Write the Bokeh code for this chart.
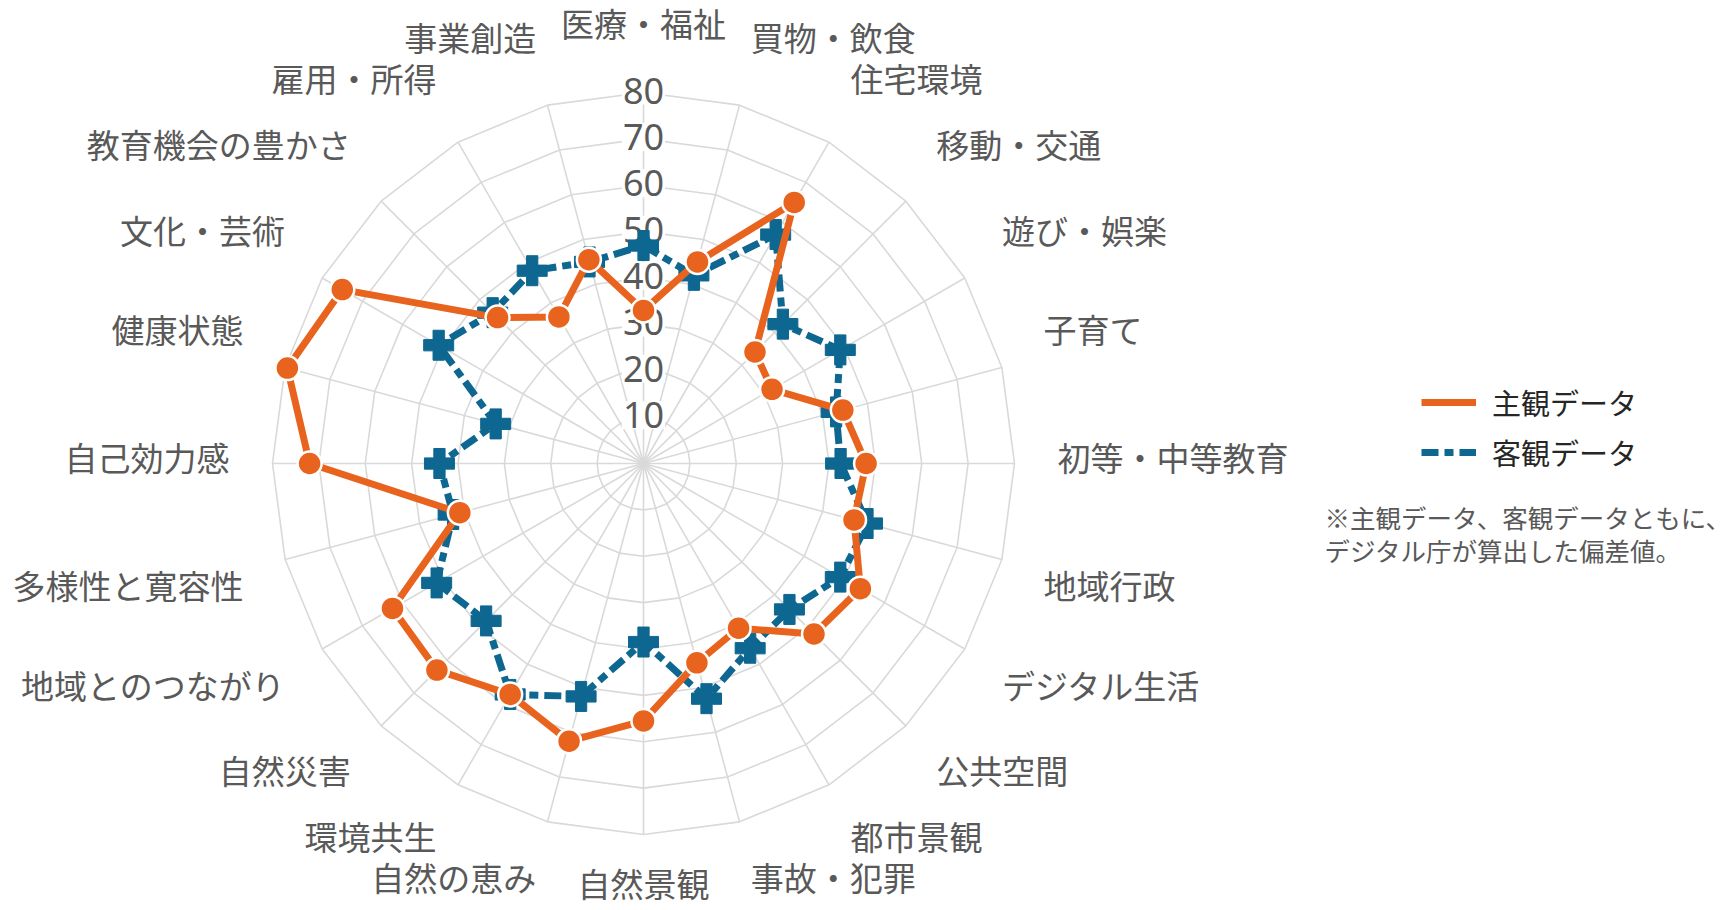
import numpy as np
from bokeh.plotting import figure
from bokeh.models import Range1d, Legend, LegendItem, ColumnDataSource
from bokeh.core.properties import value
from bokeh.embed import file_html
from bokeh.resources import INLINE

# ---------------- data ----------------
categories = ["医療・福祉", "買物・飲食", "住宅環境", "移動・交通", "遊び・娯楽", "子育て",
              "初等・中等教育", "地域行政", "デジタル生活", "公共空間", "都市景観", "事故・犯罪",
              "自然景観", "自然の恵み", "環境共生", "自然災害", "地域とのつながり", "多様性と寛容性",
              "自己効力感", "健康状態", "文化・芸術", "教育機会の豊かさ", "雇用・所得", "事業創造"]
subjective = [33, 45, 65, 34, 32, 44.5, 48, 47, 54, 52, 41, 44.5,
              55.5, 62, 57.5, 63, 62.5, 41, 72, 79.5, 75, 44.5, 36.5, 45.5]
objective = [47, 42, 57, 42.5, 49, 43, 42.5, 50, 49, 44.5, 46, 52.5,
             38.5, 52, 57.5, 48, 51.5, 42.5, 44, 33, 51, 46, 48, 45]
tick_values = [10, 20, 30, 40, 50, 60, 70, 80]
tick_labels = ["10", "20", "30", "40", "50", "60", "70", "80"]
series_names = ["主観データ", "客観データ"]
note_lines = ["※主観データ、客観データともに、", "デジタル庁が算出した偏差値。"]

# ---------------- styling / geometry ----------------
ORANGE = "#E8641E"
BLUE = "#0E6790"
GRID = "#d9d9d9"
TEXT = "#595959"
JP = "Noto Sans CJK JP"

W, H = 1734, 910
CX, CY = 643.0, -463.0          # centre (page px, y downward -> negative)
RMAX_PX = 371.0
VMAX = 80.0
K = RMAX_PX / VMAX

n = len(categories)
theta = np.arange(n) * 2 * np.pi / n


def polar(vals, ang):
    vals = np.asarray(vals, dtype=float)
    return CX + vals * K * np.sin(ang), CY + vals * K * np.cos(ang)


p = figure(width=W, height=H, output_backend="svg", toolbar_location=None,
           x_range=Range1d(0, W), y_range=Range1d(-H, 0),
           min_border=0, outline_line_color=None)
p.axis.visible = False
p.grid.visible = False
p.background_fill_color = "white"

# grid rings
ring_xs, ring_ys = [], []
ang_closed = np.append(theta, theta[0])
for v in tick_values:
    x, y = polar(np.full(n + 1, v), ang_closed)
    ring_xs.append(list(x))
    ring_ys.append(list(y))
p.multi_line(ring_xs, ring_ys, line_color=GRID, line_width=1.6)

# spokes
sp_xs, sp_ys = [], []
for a in theta:
    x, y = polar([0, VMAX], np.array([a, a]))
    sp_xs.append(list(x))
    sp_ys.append(list(y))
p.multi_line(sp_xs, sp_ys, line_color=GRID, line_width=1.6)

# radial tick labels
tx, ty = polar(tick_values, np.zeros(len(tick_values)))
p.text(x=tx, y=ty, text=tick_labels, text_align="center", text_baseline="middle",
       y_offset=-2, text_font=value("Noto Sans"), text_font_size="36px", text_color=TEXT,
       background_fill_color="white", padding=1)

# series
ox, oy = polar(subjective, theta)
bx, by = polar(objective, theta)
ox_c, oy_c = np.append(ox, ox[0]), np.append(oy, oy[0])
bx_c, by_c = np.append(bx, bx[0]), np.append(by, by[0])

blue_line = p.line(bx_c, by_c, line_color=BLUE, line_width=7, line_dash="17 6 9 6")
p.scatter(bx, by, marker="plus", size=30, fill_color=BLUE, line_color=BLUE, line_width=1)
orange_line = p.line(ox_c, oy_c, line_color=ORANGE, line_width=7)
p.scatter(ox, oy, marker="circle", size=24, fill_color=ORANGE, line_color="white", line_width=2.5)

# category labels
LAB_R = 414.0 / K
lx, ly = polar(np.full(n, LAB_R), theta)
s = np.sin(theta)
c = np.cos(theta)
aligns, baselines, yoffs = [], [], []
for si, ci in zip(s, c):
    aligns.append("left" if si > 0.05 else ("right" if si < -0.05 else "center"))
    if ci > 0.05:
        baselines.append("bottom"); yoffs.append(-3)
    elif ci < -0.05:
        baselines.append("top"); yoffs.append(-19 if ci < -0.99 else -10)
    else:
        baselines.append("middle"); yoffs.append(-7)
lab_src = ColumnDataSource(dict(x=lx, y=ly, text=categories, align=aligns,
                                base=baselines, yoff=yoffs))
p.text(x="x", y="y", text="text", source=lab_src, text_align="align",
       text_baseline="base", y_offset="yoff", text_font=value(JP),
       text_font_size="33px", text_color=TEXT)

# legend
legend = Legend(items=[LegendItem(label=series_names[0], renderers=[orange_line]),
                       LegendItem(label=series_names[1], renderers=[blue_line])],
                location=(1421, 437), orientation="vertical",
                glyph_width=55, glyph_height=30, label_height=30, label_standoff=16,
                spacing=8, padding=0, margin=0,
                label_text_font=JP, label_text_font_size="29px", label_text_color="#262626",
                border_line_color=None, background_fill_alpha=0)
p.add_layout(legend)

# note
note_x = [1324, 1324]
note_y = [-516, -549]
p.text(x=note_x, y=note_y, text=note_lines, text_align="left", text_baseline="middle",
       text_font=value(JP), text_font_size="25.5px", text_color=TEXT)

open("out.html", "w").write(file_html(p, INLINE))
